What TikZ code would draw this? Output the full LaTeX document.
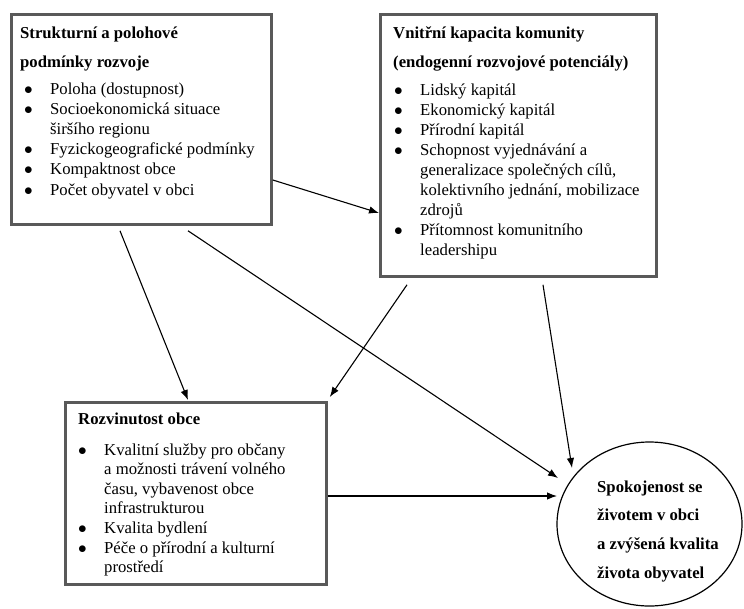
\documentclass[tikz,border=0pt]{standalone}
\usepackage{fontspec}
\setmainfont{Liberation Serif}
\usetikzlibrary{arrows.meta,calc}
\newcommand\bitem{\makebox[25pt][l]{\hspace*{-1pt}$\bullet$}}
\newcommand\bcont{\hspace*{25pt}}
\begin{document}
\begin{tikzpicture}[x=1pt,y=-1pt,
  box/.style={draw=black!65, line width=2.8pt, anchor=north west, inner sep=0pt},
  head/.style={anchor=base west, align=left, inner sep=0pt, font=\fontsize{16.7}{29}\selectfont\bfseries},
  items/.style={anchor=base west, align=left, inner sep=0pt, font=\fontsize{16.7}{20.2}\selectfont},
  arr/.style={line width=1.1pt, -{Latex[length=10pt,width=7.5pt]}},
]
\useasboundingbox (0,0) rectangle (744,608);

% boxes
\node[box, minimum width=260pt, minimum height=210pt] (b1) at (10,13) {};
\node[box, minimum width=276pt, minimum height=262pt] (b2) at (379,13) {};
\node[box, minimum width=261pt, minimum height=182pt] (b3) at (64,401) {};
\coordinate (ell) at (649.5,524);
\draw[line width=1.2pt] (ell) ellipse [x radius=92.5, y radius=82];

% box 1 text (anchored at the last baseline)
\node[head] (h1) at (20,67) {Strukturní a polohové\\podmínky rozvoje};
\node[items] (l1) at (25,195) {\bitem Poloha (dostupnost)\\
\bitem Socioekonomická situace\\
\bcont širšího regionu\\
\bitem Fyzickogeografické podmínky\\
\bitem Kompaktnost obce\\
\bitem Počet obyvatel v obci};

% box 2 text
\node[head] (h2) at (393,67) {Vnitřní kapacita komunity\\(endogenní rozvojové potenciály)};
\node[items, font=\fontsize{16.7}{20}\selectfont] (l2) at (395,255) {\bitem Lidský kapitál\\
\bitem Ekonomický kapitál\\
\bitem Přírodní kapitál\\
\bitem Schopnost vyjednávání a\\
\bcont generalizace společných cílů,\\
\bcont kolektivního jednání, mobilizace\\
\bcont zdrojů\\
\bitem Přítomnost komunitního\\
\bcont leadershipu};

% box 3 text
\node[head] (h3) at (78,424) {Rozvinutost obce};
\node[items, font=\fontsize{16.7}{19.6}\selectfont] (l3) at (79,572.6) {\bitem Kvalitní služby pro občany\\
\bcont a možnosti trávení volného\\
\bcont času, vybavenost obce\\
\bcont infrastrukturou\\
\bitem Kvalita bydlení\\
\bitem Péče o přírodní a kulturní\\
\bcont prostředí};

% ellipse text
\node[head, font=\fontsize{16.7}{28.7}\selectfont\bfseries] (et) at (597,578.1) {Spokojenost se\\životem v obci\\a zvýšená kvalita\\života obyvatel};

% connectors
\draw[arr] ([shift={(0,167)}]b1.north east) -- ([shift={(0,200)}]b2.north west);
\draw[arr] ([shift={(110,5)}]b1.south west) -- ([shift={(124,-1)}]b3.north west);
\draw[arr] ([shift={(178,5)}]b1.south west) -- ($(ell)+(-91.5,-46)$);
\draw[arr] ([shift={(28,7)}]b2.south west) -- ([shift={(2,-4)}]b3.north east);
\draw[arr] ([shift={(164,7)}]b2.south west) -- ($(ell)+(-77.5,-56)$);
\draw[arr] ([shift={(0,95)}]b3.north east) -- ($(ell)+(-92.5,-28)$);
\end{tikzpicture}
\end{document}
